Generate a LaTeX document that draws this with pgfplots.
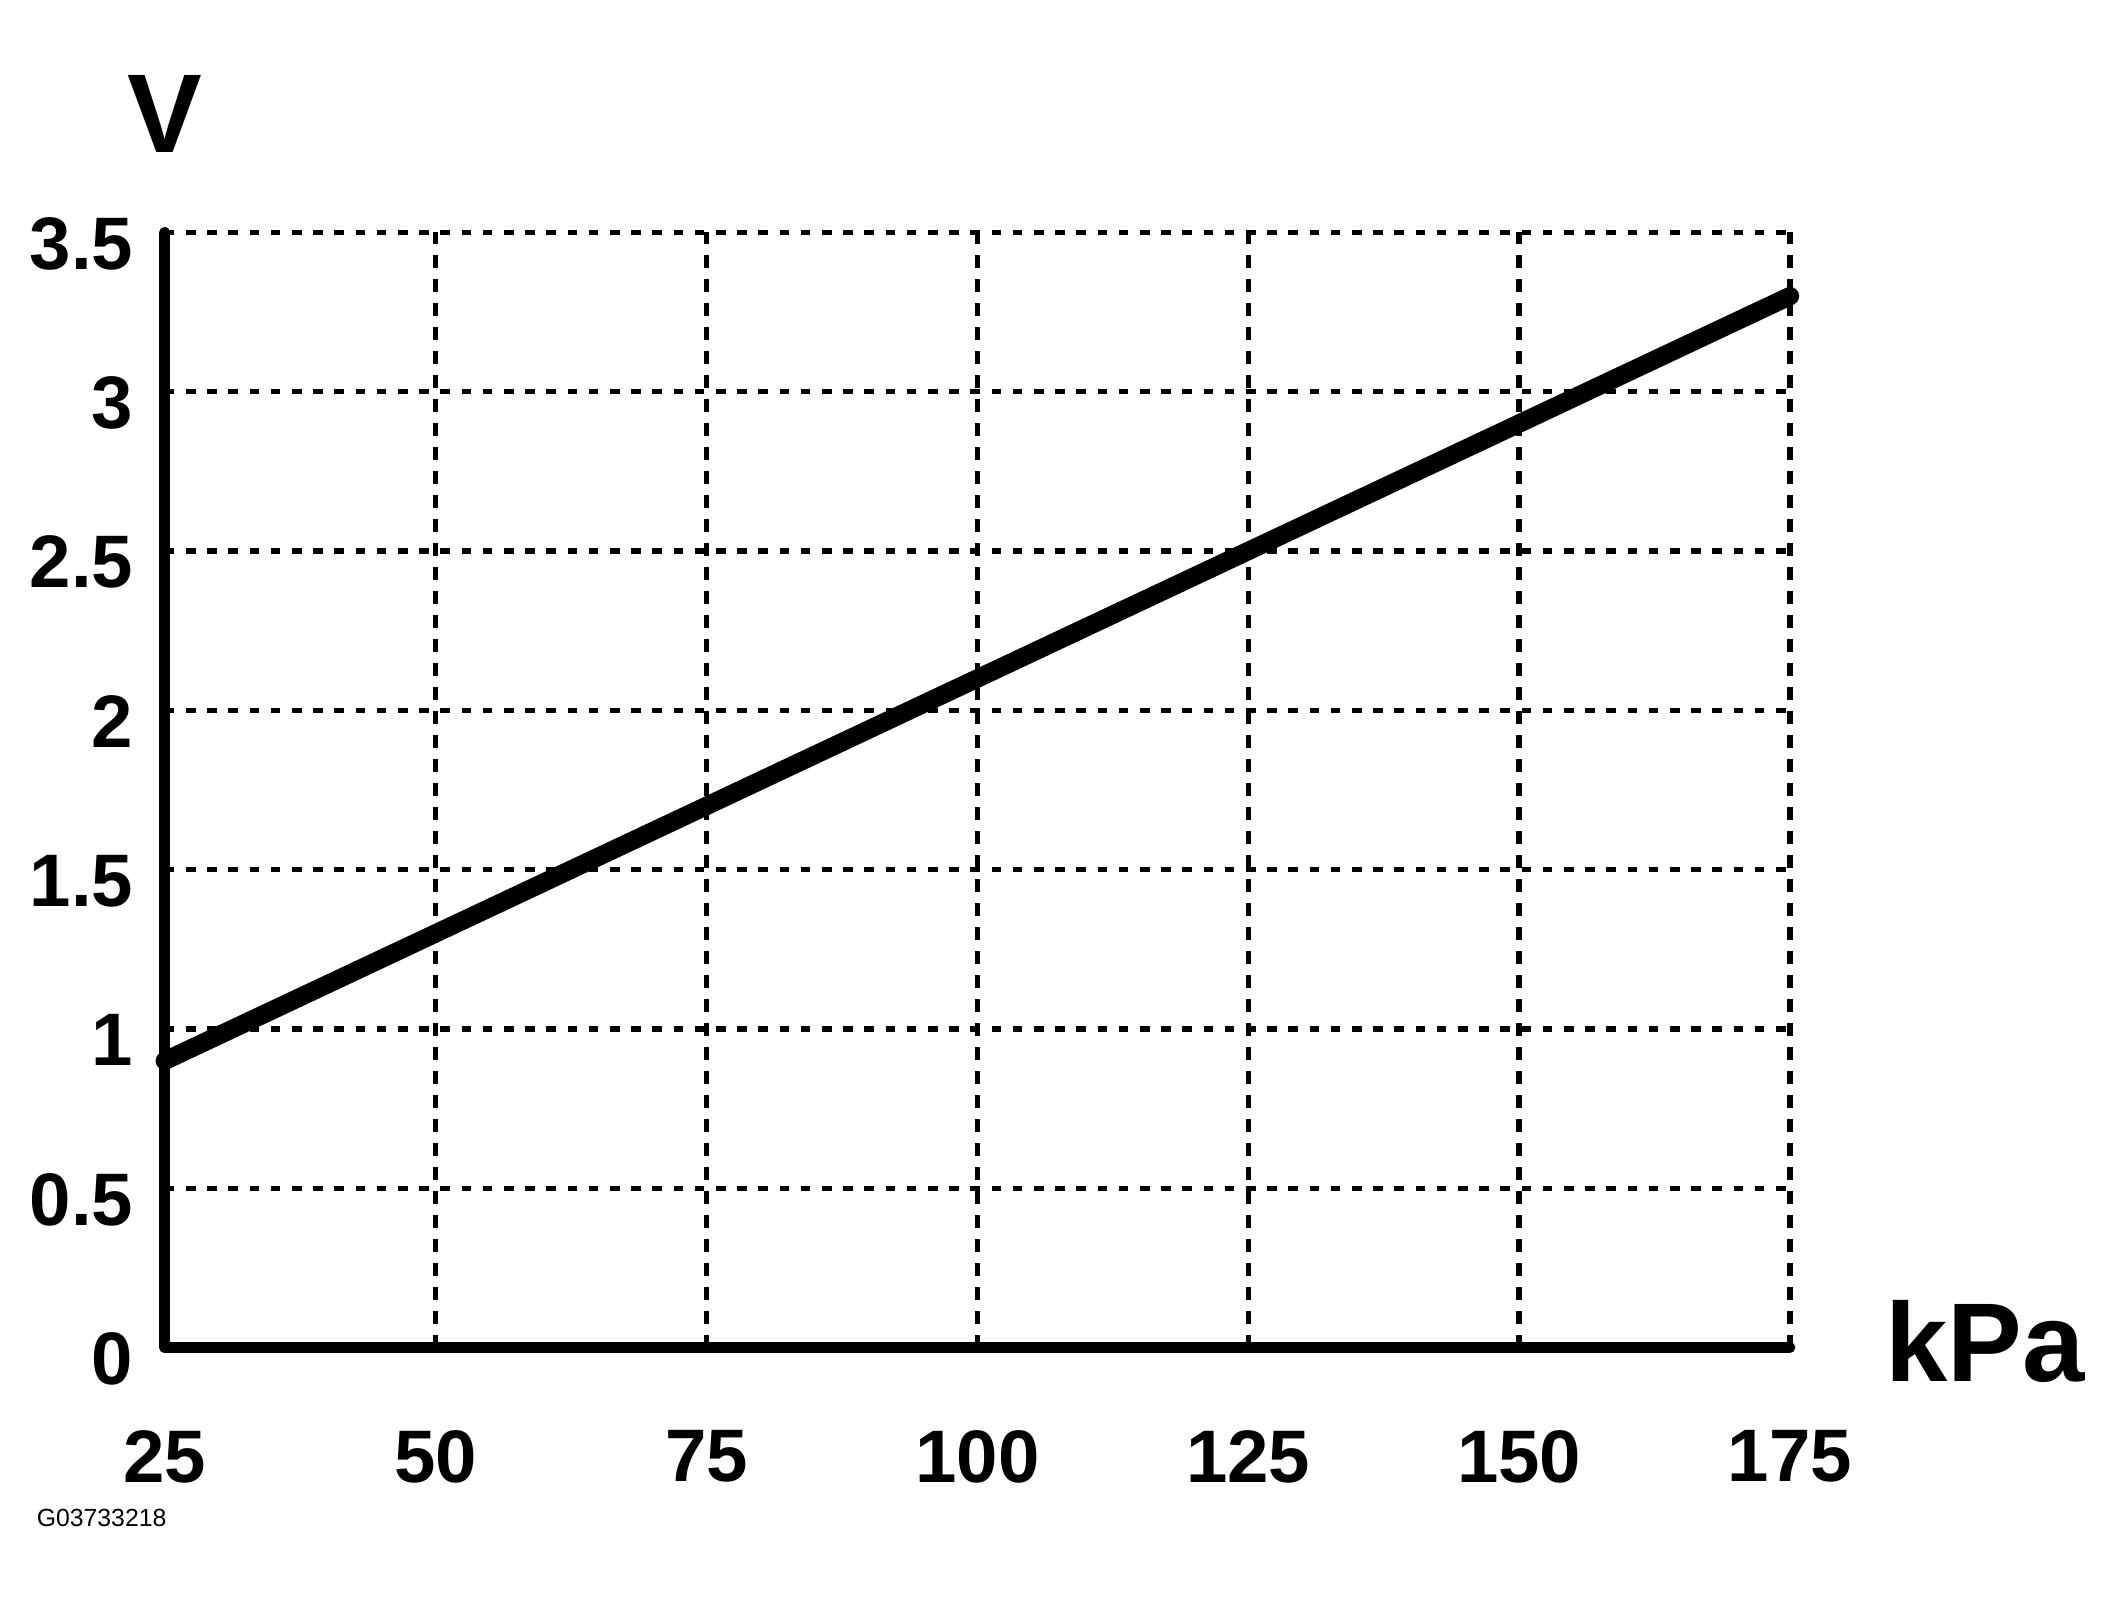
\documentclass[border=0pt]{standalone}
\usepackage{fontspec}
\setmainfont{Liberation Sans}
\usepackage{pgfplots}
\pgfplotsset{compat=1.18}
\begin{document}
\begin{tikzpicture}
\useasboundingbox (-41.2pt,-63.9pt) rectangle (489.8pt,336.9pt);
\begin{axis}[
  at={(0,0)}, anchor=south west,
  scale only axis, width=406.3pt, height=278.8pt,
  xmin=25, xmax=175, ymin=0, ymax=3.5,
  axis lines=left,
  axis line style={-, line width=2.67pt, line cap=round},
  xtick={25,50,75,100,125,150,175},
  xticklabels={25,50,75,100,125,150,175},
  ytick={0,0.5,1,1.5,2,2.5,3,3.5},
  yticklabels={0,0.5,1,1.5,2,2.5,3,3.5},
  major tick length=0pt,
  grid=major,
  major grid style={black, line width=1.33pt},
  x grid style={dash pattern=on 3.2pt off 2.8pt},
  y grid style={dash pattern=on 2.4pt off 2.9pt},
  tick label style={font=\fontsize{18.6}{20}\selectfont\bfseries, inner sep=0pt},
  xticklabel style={anchor=north, yshift=-20.6pt},
  yticklabel style={anchor=east, xshift=-7.7pt, yshift=-2.8pt},
  clip=false,
]
\addplot[black, line width=4.6pt, line cap=round] coordinates {(25,0.9) (175,3.3)};
\end{axis}
\node[inner sep=0pt, anchor=center, font=\fontsize{28}{30}\selectfont\bfseries] at (0pt,308.3pt) {V};
\node[inner sep=0pt, anchor=base west, font=\fontsize{28}{30}\selectfont\bfseries] at (430pt,-8.5pt) {kPa};
\node[inner sep=0pt, anchor=base west, font=\fontsize{6.2}{7}\selectfont] at (-32.2pt,-44.8pt) {G03733218};
\end{tikzpicture}
\end{document}
